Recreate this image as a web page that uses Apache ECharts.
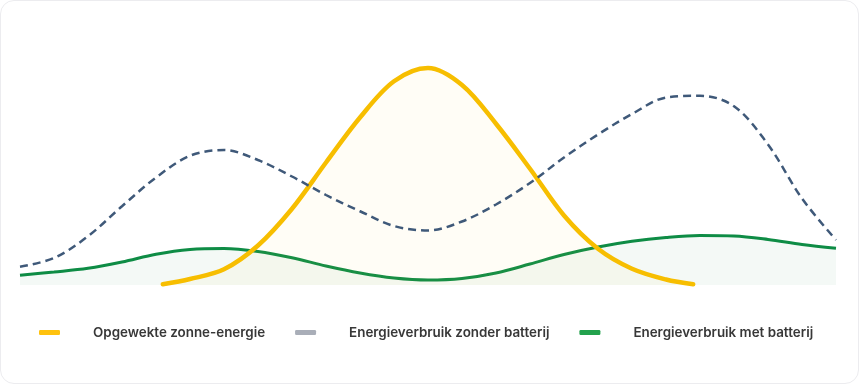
<!DOCTYPE html>
<html>
<head>
<meta charset="utf-8">
<script src="https://cdn.jsdelivr.net/npm/echarts@6/dist/echarts.min.js"></script>
<style>
html,body{margin:0;padding:0;background:#ffffff;}
#card{position:absolute;left:0;top:0;width:857px;height:382px;border:1px solid #ececef;border-radius:14px;background:#fff;overflow:hidden;}
#chart{position:absolute;left:-1px;top:-1px;width:861px;height:386px;}
</style>
</head>
<body>
<div id="card"><div id="chart"></div></div>
<script>
// hours of the day (x) and estimated energy levels (y, relative units)
const solarHours = [4.2, 5, 6, 7, 8, 9, 10, 11, 12, 13, 14, 15, 16, 17, 18, 19, 19.8];
const solarValues = [0.3, 2.4, 6.3, 15.8, 30.5, 49, 67, 81.5, 86.8, 80, 64.5, 46.5, 27.8, 14.5, 6.5, 2.2, 0.3];

const hours = [0,1,2,3,4,5,6,7,8,9,10,11,12,13,14,15,16,17,18,19,20,21,22,23,24];
const withoutBattery = [7.3,10.8,19.5,31.5,43,51.7,54,50,43.4,36,29.5,23.6,21.8,25.4,32.2,40.8,51,60.2,68.4,75,75.7,71.5,56.2,34.6,18];
const withBattery = [3.9,5.2,6.7,9.2,12.3,14.2,14.6,13.4,10.9,7.6,4.8,2.8,2,2.6,4.8,8.4,12.2,15.2,17.5,19,19.8,19.6,18.2,16.2,14.7];

const seriesNames = ['Opgewekte zonne-energie', 'Energieverbruik zonder batterij', 'Energieverbruik met batterij'];

const pair = (xs, ys) => xs.map((x, i) => [x, ys[i]]);

const chart = echarts.init(document.getElementById('chart'), null, {renderer: 'canvas'});
chart.setOption({
  animation: false,
  grid: {left: 20, right: 25, top: 35, bottom: 101},
  xAxis: {type: 'value', min: 0, max: 24, show: false},
  yAxis: {type: 'value', min: 0, max: 100, show: false},
  legend: {
    left: 39,
    top: 326,
    padding: 0,
    itemWidth: 21,
    itemHeight: 5,
    itemGap: 30,
    icon: 'roundRect',
    textStyle: {fontFamily: 'Inter', fontSize: 13.4, fontWeight: 600, color: '#383838', padding: [0, 0, 0, 28]},
    data: [
      {name: seriesNames[0], itemStyle: {color: '#FFC20E'}},
      {name: seriesNames[1], itemStyle: {color: '#A9AEB8'}},
      {name: seriesNames[2], itemStyle: {color: '#23A24D'}}
    ]
  },
  series: [
    {
      name: seriesNames[2], type: 'line', smooth: 0.34, symbol: 'none', z: 1,
      data: pair(hours, withBattery),
      lineStyle: {color: '#0E8C45', width: 3},
      itemStyle: {color: '#23A24D'},
      areaStyle: {color: 'rgba(40,140,80,0.075)'}
    },
    {
      name: seriesNames[0], type: 'line', smooth: 0.34, symbol: 'none', z: 2,
      data: pair(solarHours, solarValues),
      lineStyle: {color: '#F7BE00', width: 4.5, cap: 'round'},
      itemStyle: {color: '#FFC20E'},
      areaStyle: {color: 'rgba(255,205,40,0.06)'}
    },
    {
      name: seriesNames[1], type: 'line', smooth: 0.34, symbol: 'none', z: 3,
      data: pair(hours, withoutBattery),
      lineStyle: {color: '#3F5979', width: 2.5, type: [8, 5]},
      itemStyle: {color: '#A9AEB8'}
    }
  ]
});
</script>
</body>
</html>
